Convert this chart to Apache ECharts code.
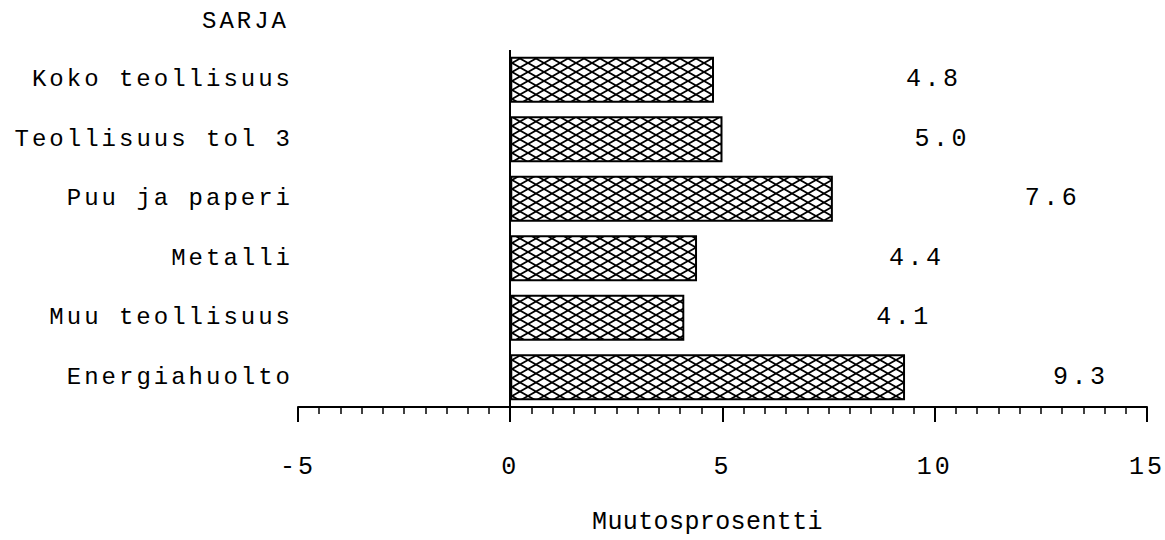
<!DOCTYPE html>
<html>
<head>
<meta charset="utf-8">
<script src="https://cdn.jsdelivr.net/npm/echarts@6/dist/echarts.min.js"></script>
<style>
html,body{margin:0;padding:0;background:#fff;}
#chart{width:1165px;height:540px;letter-spacing:3px;}
</style>
</head>
<body>
<div id="chart"></div>
<script>
const categories = ['Koko teollisuus','Teollisuus tol 3','Puu ja paperi','Metalli','Muu teollisuus','Energiahuolto'];
const values = [4.8, 5.0, 7.6, 4.4, 4.1, 9.3];
const valueLabels = ['4.8','5.0','7.6','4.4','4.1','9.3'];
const axisTitle = 'Muutosprosentti';
const seriesTitle = 'SARJA';

const FONT = '"Liberation Mono", "DejaVu Sans Mono", monospace';

function makePattern(){
  const c = document.createElement('canvas');
  c.width = 16; c.height = 9;
  const ctx = c.getContext('2d');
  ctx.fillStyle = '#fff';
  ctx.fillRect(0,0,16,9);
  ctx.strokeStyle = '#000';
  ctx.lineWidth = 1.8;
  ctx.beginPath();
  ctx.moveTo(0,0); ctx.lineTo(16,9);
  ctx.moveTo(16,0); ctx.lineTo(0,9);
  ctx.stroke();
  return c.toDataURL();
}
const pattern = {image: makePattern(), repeat: 'repeat'};

const chart = echarts.init(document.getElementById('chart'), null, {renderer: 'svg'});
const option = {
  backgroundColor: '#fff',
  animation: false,
  grid: {left: 298, right: 15, top: 50, bottom: 133, containLabel: false},
  graphic: [{
    type: 'text', left: 202, top: 9,
    style: {text: seriesTitle, font: '24px ' + FONT, fill: '#000'}
  }],
  xAxis: {
    type: 'value', min: -5, max: 15, interval: 5,
    splitLine: {show: false},
    axisLine: {show: true, onZero: false, lineStyle: {color: '#000', width: 2}},
    axisTick: {show: true, inside: false, length: 15, lineStyle: {color: '#000', width: 2}},
    minorTick: {show: true, splitNumber: 10, length: 7, lineStyle: {color: '#000', width: 1.5}},
    axisLabel: {margin: 48, color: '#000', fontFamily: FONT, fontSize: 25},
    name: axisTitle, nameLocation: 'middle', nameGap: 103,
    nameTextStyle: {color: '#000', fontFamily: FONT, fontSize: 25, padding: [0, 30, 0, 0]}
  },
  yAxis: {
    type: 'category', data: categories, inverse: true,
    axisLine: {show: false}, axisTick: {show: false},
    axisLabel: {margin: 5, color: '#000', fontFamily: FONT, fontSize: 24}
  },
  series: [{
    type: 'bar',
    barWidth: 46,
    data: values.map((v, i) => ({
      value: v,
      label: {distance: i === values.length - 1 ? 148 : 192}
    })),
    itemStyle: {color: pattern, borderColor: '#000', borderWidth: 2},
    label: {
      show: true, position: 'right', color: '#000',
      fontFamily: FONT, fontSize: 25,
      formatter: p => valueLabels[p.dataIndex]
    },
    markLine: {
      silent: true, symbol: 'none', label: {show: false},
      lineStyle: {color: '#000', width: 2, type: 'solid'},
      data: [{xAxis: 0}]
    }
  }]
};
chart.setOption(option);

function adjustSpacing(){
  const texts = document.querySelectorAll('#chart text');
  texts.forEach(t => {
    if (t.textContent === axisTitle) {
      t.style.letterSpacing = '0.4px';
    } else if (valueLabels.indexOf(t.textContent) >= 0) {
      t.style.letterSpacing = '3.5px';
    }
  });
}
chart.on('finished', adjustSpacing);
adjustSpacing();
</script>
</body>
</html>
